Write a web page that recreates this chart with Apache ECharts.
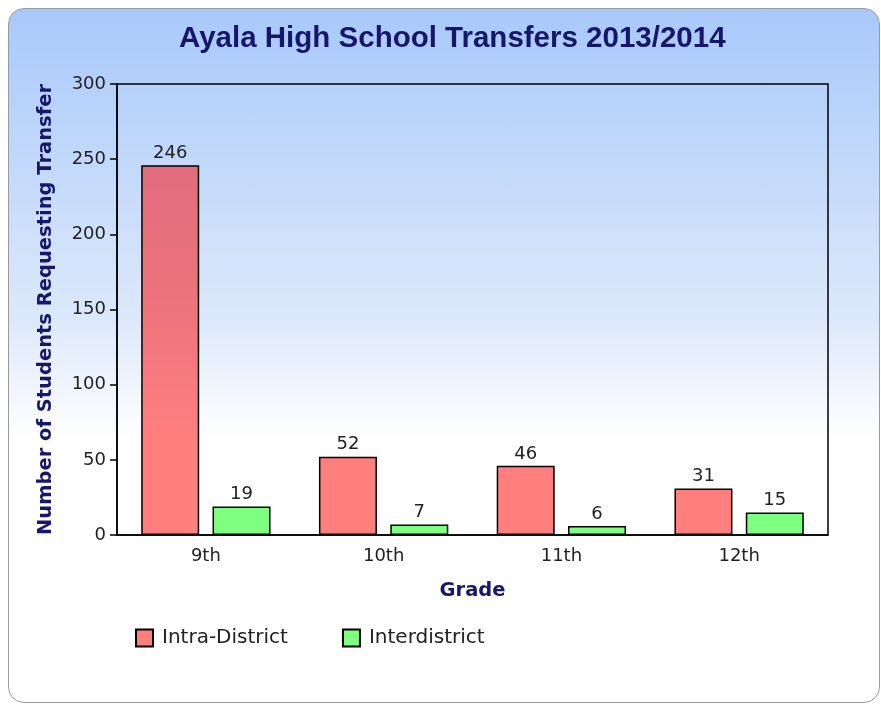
<!DOCTYPE html>
<html>
<head>
<meta charset="utf-8">
<script src="https://cdn.jsdelivr.net/npm/echarts@6/dist/echarts.min.js"></script>
<style>
  html, body { margin: 0; padding: 0; background: #fff; }
  .card {
    position: absolute; left: 8px; top: 8px; width: 870px; height: 693px;
    border: 1px solid #9a9a9a; border-radius: 16px;
    background: linear-gradient(to bottom, #a8c9fa 0%, #dde9fb 45%, #ffffff 62%, #ffffff 100%);
  }
  #chart { position: absolute; left: 0; top: 0; width: 881px; height: 705px; }
</style>
</head>
<body>
<div class="card"></div>
<div id="chart"></div>
<script>
// data
const grades = ["9th", "10th", "11th", "12th"];
const intraDistrict = [246, 52, 46, 31];
const interdistrict = [19, 7, 6, 15];
const yTicks = { min: 0, max: 300, interval: 50 };

const navy = "#16166b";
const txt = "#222";

let mychart = echarts.init(document.getElementById("chart"));
mychart.setOption({
  backgroundColor: "transparent",
  title: {
    text: "Ayala High School Transfers 2013/2014",
    left: 174,
    top: 19,
    textStyle: { fontFamily: "Liberation Sans", fontWeight: "bold", fontSize: 29.5, color: navy }
  },
  legend: {
    left: 130,
    top: 623,
    itemWidth: 17,
    itemHeight: 17,
    itemGap: 54,
    icon: "rect",
    textStyle: { fontFamily: "DejaVu Sans", fontSize: 20, color: txt, padding: [0, 0, 0, 4] },
    data: ["Intra-District", "Interdistrict"]
  },
  grid: {
    left: 117, top: 84, right: 53, bottom: 170,
    show: true, borderColor: "#000", borderWidth: 1.5, backgroundColor: "transparent"
  },
  xAxis: {
    type: "category",
    data: grades,
    name: "Grade",
    nameLocation: "middle",
    nameGap: 46,
    nameTextStyle: { fontFamily: "DejaVu Sans", fontWeight: "bold", fontSize: 19.5, color: navy },
    axisLine: { lineStyle: { color: "#000", width: 1.5 } },
    axisTick: { alignWithLabel: true, length: 7, lineStyle: { color: "#000", width: 1.5 } },
    axisLabel: { margin: 12, fontFamily: "DejaVu Sans", fontSize: 18, color: txt }
  },
  yAxis: {
    type: "value",
    min: yTicks.min,
    max: yTicks.max,
    interval: yTicks.interval,
    name: "Number of Students Requesting Transfer",
    nameLocation: "middle",
    nameGap: 61,
    nameTextStyle: { fontFamily: "DejaVu Sans", fontWeight: "bold", fontSize: 19.5, color: navy },
    axisLine: { show: true, lineStyle: { color: "#000", width: 1.5 } },
    axisTick: { show: true, length: 7, lineStyle: { color: "#000", width: 1.5 } },
    axisLabel: { margin: 11, fontFamily: "DejaVu Sans", fontSize: 18, color: txt },
    splitLine: { show: false }
  },
  series: [
    {
      name: "Intra-District",
      type: "bar",
      data: intraDistrict,
      barWidth: 58,
      barGap: "23%",
      itemStyle: { color: "rgba(255,0,0,0.5)", borderColor: "#000", borderWidth: 1.5 },
      label: { show: true, position: "top", distance: 3, fontFamily: "DejaVu Sans", fontSize: 18, color: txt }
    },
    {
      name: "Interdistrict",
      type: "bar",
      data: interdistrict,
      barWidth: 58,
      barGap: "23%",
      itemStyle: { color: "rgba(0,255,0,0.5)", borderColor: "#000", borderWidth: 1.5 },
      label: { show: true, position: "top", distance: 3, fontFamily: "DejaVu Sans", fontSize: 18, color: txt }
    }
  ]
});
</script>
</body>
</html>
